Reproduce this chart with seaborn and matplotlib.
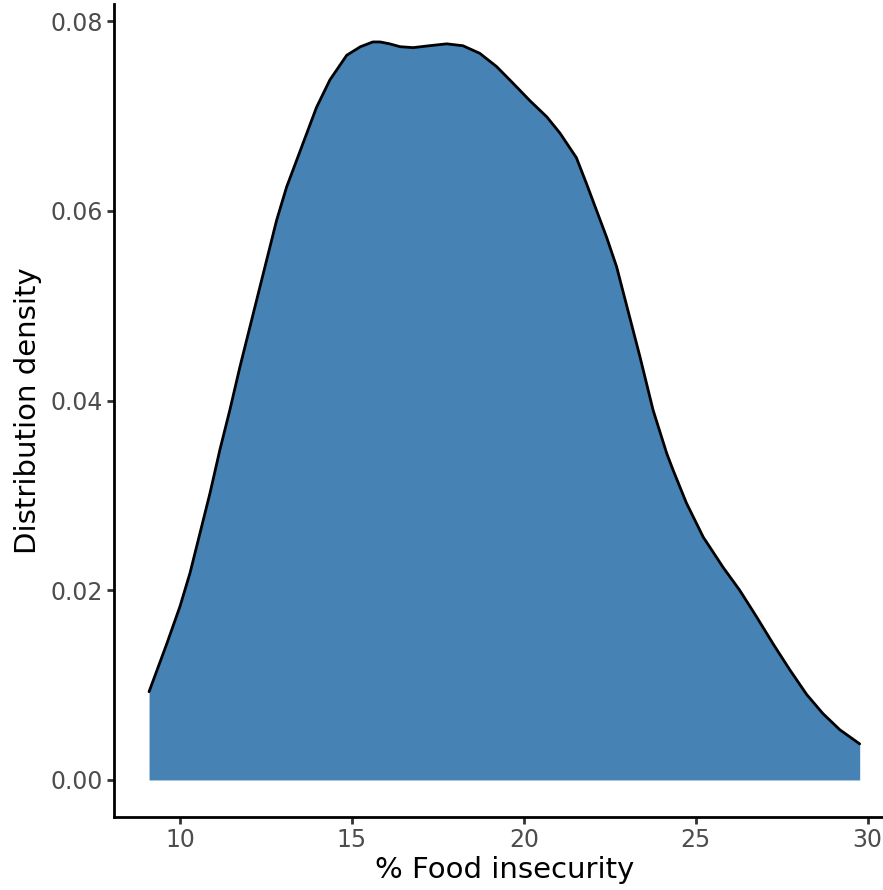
import matplotlib
matplotlib.use("Agg")
import matplotlib.pyplot as plt
import seaborn as sns
import pandas as pd

# density curve
food_insecurity = [9.10, 9.62, 10.00, 10.29, 10.58, 10.87, 11.16, 11.45, 11.74, 12.23,
                   12.81, 13.10, 13.39, 13.68, 13.97, 14.36, 14.85, 15.25, 15.61, 15.82,
                   16.10, 16.40, 16.78, 17.25, 17.76, 18.23, 18.72, 19.21, 19.70, 20.18,
                   20.67, 21.05, 21.53, 21.82, 22.11, 22.41, 22.70, 22.90, 23.38, 23.76,
                   24.16, 24.35, 24.73, 25.22, 25.80, 26.28, 26.77, 27.26, 27.74, 28.23,
                   28.70, 29.19, 29.77]
density = [0.0093, 0.0144, 0.0183, 0.0218, 0.0260, 0.0302, 0.0348, 0.0390, 0.0435, 0.0506,
           0.0590, 0.0625, 0.0653, 0.0681, 0.0709, 0.0738, 0.0764, 0.0773, 0.0778, 0.0778,
           0.0776, 0.0773, 0.0772, 0.0774, 0.0776, 0.0774, 0.0766, 0.0752, 0.0734, 0.0716,
           0.0699, 0.0682, 0.0656, 0.0629, 0.0601, 0.0572, 0.0541, 0.0513, 0.0446, 0.0390,
           0.0344, 0.0326, 0.0292, 0.0256, 0.0224, 0.0200, 0.0172, 0.0143, 0.0116, 0.0090,
           0.0070, 0.0053, 0.0038]

df = pd.DataFrame({"x": food_insecurity, "density": density})

sns.set_theme(style="ticks")
plt.rcParams['font.family'] = ['DejaVu Sans']

fig = plt.figure(figsize=(8.83, 8.90), dpi=100)
ax = fig.add_axes([0.1287, 0.0824, 0.885, 0.9131])

ax.fill_between(df["x"], 0, df["density"], color="#4682B4", linewidth=0)
sns.lineplot(data=df, x="x", y="density", color="black", linewidth=2, ax=ax)

ax.set_xlim(8.07, 30.80)
ax.set_ylim(-0.00387, 0.0818)
ax.set_xticks([10, 15, 20, 25, 30])
ax.set_yticks([0.00, 0.02, 0.04, 0.06, 0.08])
ax.set_yticklabels(["0.00", "0.02", "0.04", "0.06", "0.08"])

ax.set_xlabel("% Food insecurity", fontsize=21, color="black", labelpad=3)
ax.set_ylabel("Distribution density", fontsize=21, color="black", labelpad=6)
ax.tick_params(axis="both", labelsize=17, labelcolor="#4d4d4d", color="#333333",
               length=5, width=2, pad=3)

for s in ["top", "right"]:
    ax.spines[s].set_visible(False)
for s in ["left", "bottom"]:
    ax.spines[s].set_color("black")
    ax.spines[s].set_linewidth(2)

fig.savefig("out.png", dpi=100)
